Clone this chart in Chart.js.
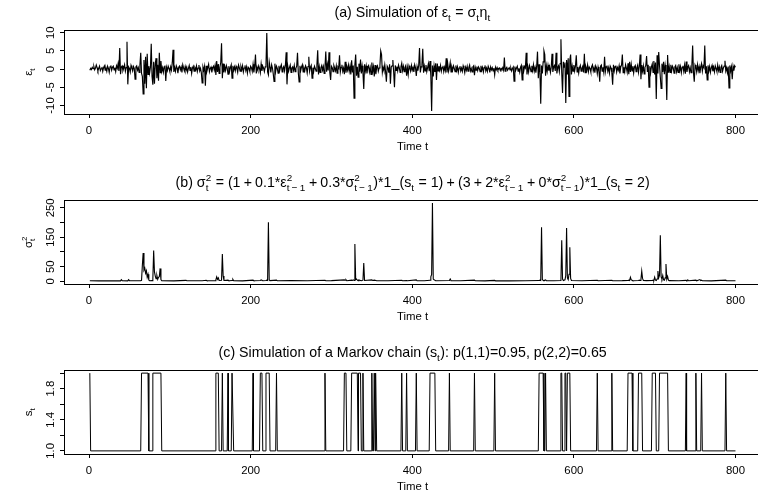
<!DOCTYPE html>
<html><head><meta charset="utf-8">
<script src="https://cdn.jsdelivr.net/npm/chart.js@4.4.0/dist/chart.umd.min.js"></script>
<style>
html,body{margin:0;padding:0;background:#fff;overflow:hidden;width:758px;height:491px;position:relative}
canvas.p{position:absolute;left:0}
</style></head><body>
<canvas id="ca" class="p" width="770" height="154" style="top:0px;width:770px;height:154px"></canvas>
<canvas id="cb" class="p" width="770" height="154" style="top:170px;width:770px;height:154px"></canvas>
<canvas id="cc" class="p" width="770" height="154" style="top:340px;width:770px;height:154px"></canvas>
<script>
// ---------- data ----------
const timeTicks = [0, 200, 400, 600, 800];
const epsTicks = [-10, -5, 0, 5, 10];
const epsTickLabels = ['-10', '-5', '0', '5', '10'];
const sig2Ticks = [0, 50, 100, 150, 200, 250];
const sig2TickLabels = ['0', '50', '', '150', '', '250'];
const stTicks = [1.0, 1.2, 1.4, 1.6, 1.8, 2.0];
const stTickLabels = ['1.0', '', '1.4', '', '1.8', ''];

// epsilon_t, t = 1..800
const eps = [
-0.3,0.2,-0.1,0.5,0.1,0.7,-0.2,0.3,1.1,0.4,-0.5,0.2,0.8,-0.4,0.1,0.6,-0.6,0.4,0.9,-0.3,
0.3,-0.6,0.8,0.2,-0.9,0.6,1.0,-0.3,0.5,0.8,-0.2,0.4,-0.7,0.9,0.2,1.5,-0.5,5.8,-1.4,0.6,
0.9,-0.4,0.3,1.2,-0.6,0.4,7.5,-4.2,0.6,0.2,-0.8,1.0,0.3,-0.5,0.7,0.2,-2.8,0.6,0.9,-0.3,
0.4,-0.9,1.1,4.5,-1.2,-2.0,-6.8,2.5,-4.0,3.4,-5.3,4.2,-1.5,0.8,-1.1,0.5,7.0,-2.0,-4.3,2.0,
-4.0,1.5,3.0,-2.5,1.2,-3.2,4.5,-1.0,2.2,-0.6,0.4,-0.9,0.6,1.0,-3.3,0.5,-0.4,0.8,0.2,-0.7,
0.6,-0.3,1.7,5.3,-0.8,0.4,-0.6,0.9,0.3,-1.1,0.5,0.8,-0.2,0.6,-0.9,1.2,0.3,-0.5,0.7,-0.4,
0.5,-0.8,0.2,1.0,-0.4,0.6,-1.2,0.3,0.8,-0.6,0.4,-0.2,0.9,-0.7,0.3,1.1,-0.5,0.2,-1.0,-3.8,
0.6,-0.3,0.8,-4.6,0.9,-0.5,0.4,1.3,-0.7,0.2,0.6,-0.9,0.4,0.8,-0.3,1.0,-1.6,2.2,-0.8,1.4,
-1.2,0.5,1.8,7.1,-2.5,1.5,-0.9,0.7,-0.4,1.0,0.3,-1.4,0.8,-0.6,0.5,1.2,-2.5,0.9,-0.3,0.6,
-0.5,0.8,0.2,-0.9,1.1,0.4,-0.6,0.7,-0.2,0.9,-0.8,0.3,1.0,-0.4,0.6,-1.1,0.5,0.2,-0.7,0.8,
0.4,-0.6,1.3,-0.9,0.7,4.0,-1.2,0.5,-0.3,0.9,0.2,-1.0,1.4,-0.5,0.8,0.3,-0.7,0.6,1.1,9.9,
-0.8,-1.6,2.0,0.5,-0.9,1.2,0.3,-1.3,-3.4,1.5,-0.6,0.8,0.2,-1.1,0.9,-0.4,0.6,1.2,-0.8,0.3,
0.7,-0.5,1.0,4.6,-4.2,0.8,-0.6,0.4,1.1,-0.9,0.3,0.6,-0.4,1.0,-0.7,0.2,0.8,4.5,-1.0,-3.5,
0.9,-0.4,0.6,1.2,-0.8,0.3,-0.5,0.9,0.4,-1.1,0.7,3.4,-0.6,0.5,1.0,-2.5,0.4,-0.7,0.8,0.2,
-0.6,1.1,5.2,-1.5,0.6,-0.9,0.4,1.0,-0.3,0.7,-1.2,0.5,4.8,-0.7,1.3,-0.4,4.6,-0.9,-3.0,0.8,
0.4,-0.7,1.0,0.3,-0.5,0.9,-1.1,0.6,0.2,3.8,-0.8,0.5,1.2,-0.6,0.3,-1.4,2.0,-1.0,0.7,-0.3,
1.1,-0.6,0.8,-1.5,2.4,-0.9,1.0,-8.0,1.2,4.0,-1.8,0.6,-2.2,1.5,-0.7,2.6,-1.2,0.9,-1.0,-5.5,
1.3,-0.5,0.9,-1.2,0.6,1.0,-0.8,0.4,-1.5,1.8,-0.6,0.7,-2.0,1.1,-1.4,0.5,0.9,-0.6,0.3,1.0,
5.0,4.0,-0.9,0.5,-0.4,1.2,-0.7,-3.5,0.8,0.3,-1.0,1.3,-4.0,0.6,0.9,2.5,-0.8,-5.0,1.0,-0.4,
0.7,-0.5,1.1,0.3,-0.9,0.6,1.6,-0.4,0.8,-0.7,0.5,1.0,-1.8,0.4,-1.5,0.9,0.2,-0.6,1.0,-0.3,
0.5,-0.8,1.2,0.4,-1.9,0.7,-0.4,1.0,5.8,-0.9,0.6,1.3,5.6,-1.0,0.8,-0.5,1.1,-0.7,0.4,1.5,
-0.6,2.2,-1.8,-11.5,1.0,-2.0,0.9,-0.8,1.6,-3.0,1.5,-0.5,0.8,-0.3,1.0,-0.6,0.4,0.9,-0.7,0.5,
-0.4,3.0,-0.9,1.3,-0.6,0.4,1.8,-0.8,0.6,-0.3,0.9,0.2,-0.7,1.0,-0.4,0.6,-0.9,0.3,0.8,-0.5,
0.3,-0.6,0.9,0.2,-1.0,0.5,-0.3,0.8,-0.6,0.4,1.1,-0.5,0.2,-0.8,0.6,0.9,-1.7,0.5,-0.3,0.7,
-0.4,0.6,0.2,-0.7,0.9,-0.3,0.5,-0.8,0.4,1.0,-0.5,0.3,-0.6,0.8,0.2,-0.9,0.6,-0.2,0.4,-0.5,
0.3,-1.6,0.5,-0.2,0.4,-0.3,0.1,0.3,-0.4,0.2,-0.1,0.4,-0.3,3.2,-0.6,0.2,0.5,-0.3,0.1,0.4,
-0.2,0.3,-0.5,0.2,0.6,-3.3,0.7,-0.4,0.3,0.8,-0.6,0.2,-0.9,0.5,1.0,-3.0,1.0,-0.5,0.7,0.3,
4.5,-1.5,0.6,-0.8,1.0,0.3,-0.7,0.9,-0.4,1.2,-0.6,0.5,-1.0,0.8,4.8,-2.5,1.3,-0.9,-9.5,1.0,
-1.2,2.0,5.0,4.0,-1.8,0.9,-0.6,1.1,-0.4,0.7,-0.9,0.5,4.2,-0.8,0.6,1.0,-0.5,4.5,-1.2,0.4,
0.9,-0.7,1.5,8.2,-1.0,-6.6,2.0,0.5,1.8,-9.3,2.5,-1.5,3.0,-7.5,2.5,4.0,-1.5,0.8,-0.6,1.1,
-0.5,0.9,3.8,-0.8,0.6,-1.1,0.4,1.0,-0.6,0.3,0.8,-0.9,4.2,-1.0,0.5,-0.4,1.1,-0.7,0.6,0.2,
-0.8,0.7,1.2,-0.5,0.4,-1.0,0.9,0.3,-1.3,0.6,-0.4,-3.5,0.8,1.1,-0.6,0.5,-0.9,3.4,-0.7,0.6,
1.0,-0.6,0.4,-1.1,0.8,0.3,-0.9,-4.3,1.2,-0.5,0.7,1.0,-0.8,0.4,-0.3,0.9,-1.2,0.6,1.1,4.0,
-1.0,0.5,-0.7,1.2,0.3,-0.9,1.6,-1.4,2.0,-0.8,1.3,-0.5,0.8,-1.1,0.6,1.0,-0.7,0.4,1.1,-0.9,
0.7,4.0,-2.8,1.1,-0.6,0.9,-1.3,0.5,1.0,3.6,-0.8,1.2,-5.0,0.8,-1.0,0.6,1.4,-0.9,2.2,-1.5,
1.8,-8.2,3.8,-1.2,4.7,1.0,-2.2,-5.3,1.5,-0.8,2.0,-1.4,1.1,-0.6,-8.5,3.9,-1.0,0.7,-0.9,1.2,
-0.5,0.8,0.3,-1.1,0.6,1.0,-0.7,0.4,-0.9,1.3,-0.4,0.7,-1.0,0.5,0.9,-0.6,1.1,-1.3,2.1,-0.8,
0.6,1.0,-0.7,0.4,-1.0,0.8,6.5,-0.9,-3.5,1.1,0.5,-0.8,1.2,-0.4,0.7,-1.1,0.6,1.5,-0.6,0.9,
0.4,6.5,-1.2,0.8,-3.0,1.0,-0.5,0.7,-0.9,0.3,1.0,-0.6,0.5,-0.8,0.9,0.2,-0.7,1.1,-0.4,0.6,
-0.9,0.5,1.0,-0.6,0.3,0.8,2.3,-0.5,0.4,-1.0,0.7,-5.2,1.0,-0.5,0.6,-2.8,0.8,-0.4,0.9,0.5
];

// sigma_t^2 read at these times (flat ~2 in between)
const sig2T = [1,12,25,39,40,41,48,49,50,58,64,65,66,67,68,69,70,71,72,73,74,75,78,79,80,81,82,83,84,85,86,87,88,89,90,
105,120,121,140,145,146,156,157,158,159,160,161,164,165,166,167,172,173,177,178,179,190,203,204,212,213,214,215,
219,220,221,222,223,224,232,233,250,270,292,293,300,316,317,318,319,325,326,327,328,329,330,331,332,333,334,335,336,337,
339,340,341,350,351,353,355,356,370,387,388,393,394,405,406,415,422,423,424,425,426,427,428,429,446,447,448,460,477,478,
490,502,503,520,540,557,558,559,560,561,562,563,565,566,575,584,585,586,587,589,590,591,592,593,594,595,596,597,610,
629,630,647,648,660,667,668,669,670,671,672,673,680,681,682,683,684,685,686,690,697,698,699,700,701,702,703,704,705,
706,707,708,709,710,711,712,713,714,715,716,717,718,730,739,740,741,742,751,752,756,757,758,759,770,788,789,800];
const sig2V = [2.0,1.6,2.2,1.8,5.5,2.4,1.7,6.0,2.3,1.9,2.2,3.5,55,96,38,45,28,36,14,24,4.5,2.0,2.5,10,105,32,18,9,20,7,14,16,44,6,2.2,
1.8,3.5,1.9,2.0,3.8,2.0,2.1,5,15,7,12,3,3.5,93,18,3,4,2,3,7,2.2,1.8,4,2,3,5,4,2,
3,4,3,201,5,2.5,4,2,2.4,1.9,4,2,2.6,5,4,6,2.2,4,3,5,3,127,6,8,4,2.5,5,4,3,2,
4,62,3,5,3,4,3,2,2.3,4,2,3,2,5,2,2.2,4,15,24,266,8,5,4,2.2,3,8,2,1.9,4,2,
1.8,3.5,1.8,1.7,2.3,3,4,3,184,6,4,2.5,5,2.5,2.2,3,140,8,3,5,20,181,12,6,24,116,10,3,2.0,
4,2,4,2.2,2.4,3,4,3,14,5,4,2.2,3,4,3,6,35,10,3,2.5,3,4,3,14,4,3,8,35,12,
20,157,15,8,20,5,4,12,59,8,17,4,2.5,1.9,3.5,2,5,2,4,2,6,2.5,4,2,1.8,4,2,2.0];

// Markov chain: periods (inclusive) spent in state 2, otherwise state 1
const regime2Start = [1,65,79,157,165,172,177,203,212,219,232,292,316,325,334,339,350,353,355,387,393,405,422,446,477,502,557,565,584,589,592,629,647,667,680,697,706,739,751,758,788];
const regime2End   = [1,73,89,160,165,172,178,203,214,223,232,292,318,332,336,339,350,353,355,387,393,405,428,446,477,502,562,565,585,590,595,629,647,672,684,701,716,739,751,758,788];
const nObs = 800;

// ---------- drawing ----------
const FONT = '"Liberation Sans", Arial, Helvetica, sans-serif';
const TITLE_SIZE = 14.2;
const AXIS_SIZE = 11.4;
const X_MIN = 1 - 0.04 * (nObs - 1), X_MAX = nObs + 0.04 * (nObs - 1);
// math spacing markers used in the plotmath-like titles: '~' medium space, '^' thick space
const GAPS = { '~': 2 / 9, '^': 5 / 18 };

function rlim(arr) { const mn = Math.min(...arr), mx = Math.max(...arr), r = mx - mn; return [mn - 0.04 * r, mx + 0.04 * r]; }

function strRun(ctx, str, x, y, size, draw) {
  ctx.font = size + 'px ' + FONT;
  let w = 0;
  for (const part of str.split(/([~^])/)) {
    if (part === '') continue;
    if (GAPS[part] !== undefined) { w += GAPS[part] * size; continue; }
    if (draw) ctx.fillText(part, x + w, y);
    w += ctx.measureText(part).width;
  }
  return w;
}
function segWidth(ctx, s, size) {
  if (s.t !== undefined) return strRun(ctx, s.t, 0, 0, size, false);
  const ss = size * 0.7;
  const a = s.sb ? strRun(ctx, s.sb, 0, 0, ss, false) : 0, b = s.sp ? strRun(ctx, s.sp, 0, 0, ss, false) : 0;
  return Math.max(a, b) + size * 0.04;
}
function drawRich(ctx, segs, cx, base, size) {
  let total = 0; for (const s of segs) total += segWidth(ctx, s, size);
  let x = cx - total / 2;
  ctx.textAlign = 'left'; ctx.textBaseline = 'alphabetic'; ctx.fillStyle = '#000';
  for (const s of segs) {
    const w = segWidth(ctx, s, size);
    if (s.t !== undefined) strRun(ctx, s.t, x, base, size, true);
    else {
      if (s.sb) strRun(ctx, s.sb, x, base + size * 0.28, size * 0.7, true);
      if (s.sp) strRun(ctx, s.sp, x, base - size * 0.42, size * 0.7, true);
    }
    x += w;
  }
}
function alignPx(p) { return Math.round(p - 0.5) + 0.5; }

function makePanel(id, points, yMin, yMax, yTicks, yLabels, titleSegs, yTitleSegs, lineW) {
  const deco = {
    id: 'deco' + id,
    afterDraw(chart) {
      const ctx = chart.ctx, a = chart.chartArea, ys = chart.scales.y;
      ctx.save();
      ctx.strokeStyle = '#000'; ctx.lineWidth = 1;
      const l = alignPx(a.left), r = alignPx(a.right), t = alignPx(a.top), b = alignPx(a.bottom);
      ctx.strokeRect(l, t, r - l, b - t);
      drawRich(ctx, titleSegs, (a.left + a.right) / 2, a.top - 13, TITLE_SIZE);
      yTicks.forEach((v, i) => {
        if (!yLabels[i]) return;
        const py = ys.getPixelForValue(v);
        ctx.save(); ctx.translate(50, py); ctx.rotate(-Math.PI / 2);
        ctx.font = AXIS_SIZE + 'px ' + FONT;
        ctx.textAlign = 'center'; ctx.textBaseline = 'alphabetic'; ctx.fillStyle = '#000';
        ctx.fillText(yLabels[i], 0, AXIS_SIZE * 0.36);
        ctx.restore();
      });
      ctx.save(); ctx.translate(28, (a.top + a.bottom) / 2); ctx.rotate(-Math.PI / 2);
      drawRich(ctx, yTitleSegs, 0, AXIS_SIZE * 0.36, AXIS_SIZE);
      ctx.restore();
      ctx.restore();
    }
  };
  return new Chart(document.getElementById(id), {
    type: 'line',
    data: { datasets: [{ data: points, borderColor: '#000', borderWidth: lineW, pointRadius: 0, tension: 0, fill: false }] },
    options: {
      responsive: false, animation: false, events: [],
      layout: { padding: { top: 30, right: 8.7, left: 0, bottom: 0 } },
      plugins: { legend: { display: false }, tooltip: { enabled: false }, title: { display: false } },
      scales: {
        x: {
          type: 'linear', min: X_MIN, max: X_MAX, bounds: 'data',
          afterBuildTicks: s => { s.ticks = timeTicks.map(v => ({ value: v })); },
          afterFit: s => { s.height = 40; },
          grid: { drawOnChartArea: false, drawTicks: true, tickLength: 4, color: '#000' },
          border: { display: true, color: '#000' },
          ticks: { font: { family: FONT, size: AXIS_SIZE }, color: '#000', padding: 6, maxRotation: 0, autoSkip: false,
                   callback: v => String(v) },
          title: { display: true, text: 'Time t', font: { family: FONT, size: AXIS_SIZE }, color: '#000', padding: { top: 0, bottom: 0.5 } }
        },
        y: {
          type: 'linear', min: yMin, max: yMax, bounds: 'data',
          afterBuildTicks: s => { s.ticks = yTicks.map(v => ({ value: v })); },
          afterFit: s => { s.width = 64; },
          grid: { drawOnChartArea: false, drawTicks: true, tickLength: 4, color: '#000' },
          border: { display: true, color: '#000' },
          ticks: { autoSkip: false, callback: () => '', font: { size: 1 } }
        }
      }
    },
    plugins: [deco]
  });
}

// panel (a)
const epsPts = eps.map((v, i) => ({ x: i + 1, y: v }));
const la = rlim(eps);
makePanel('ca', epsPts, la[0], la[1], epsTicks, epsTickLabels,
  [{ t: '(a) Simulation of ε' }, { sb: 't' }, { t: '^=^σ' }, { sb: 't' }, { t: 'η' }, { sb: 't' }],
  [{ t: 'ε' }, { sb: 't' }], 1.15);

// panel (b)
const sigPts = sig2T.map((t, i) => ({ x: t, y: sig2V[i] }));
const lb = rlim(sig2V);
makePanel('cb', sigPts, lb[0], lb[1], sig2Ticks, sig2TickLabels,
  [{ t: '(b) σ' }, { sb: 't', sp: '2' }, { t: '^=^(1~+~0.1*ε' }, { sb: 't~−~1', sp: '2' }, { t: '~+~0.3*σ' }, { sb: 't~−~1', sp: '2' },
   { t: ')*1_(s' }, { sb: 't' }, { t: '^=^1)~+~(3~+~2*ε' }, { sb: 't~−~1', sp: '2' }, { t: '~+~0*σ' }, { sb: 't~−~1', sp: '2' },
   { t: ')*1_(s' }, { sb: 't' }, { t: '^=^2)' }],
  [{ t: 'σ' }, { sb: 't', sp: '2' }], 1.1);

// panel (c)
const stPts = [];
if (regime2Start[0] > 1) stPts.push({ x: 1, y: 1 });
regime2Start.forEach((a, i) => {
  const b = regime2End[i];
  if (a > 1) stPts.push({ x: a - 1, y: 1 });
  stPts.push({ x: a, y: 2 });
  stPts.push({ x: b, y: 2 });
  stPts.push({ x: b + 1, y: 1 });
});
stPts.push({ x: nObs, y: 1 });
makePanel('cc', stPts, 0.96, 2.04, stTicks, stTickLabels,
  [{ t: '(c) Simulation of a Markov chain (s' }, { sb: 't' }, { t: '): p(1,1)=0.95, p(2,2)=0.65' }],
  [{ t: 's' }, { sb: 't' }], 1);
</script>
</body></html>
